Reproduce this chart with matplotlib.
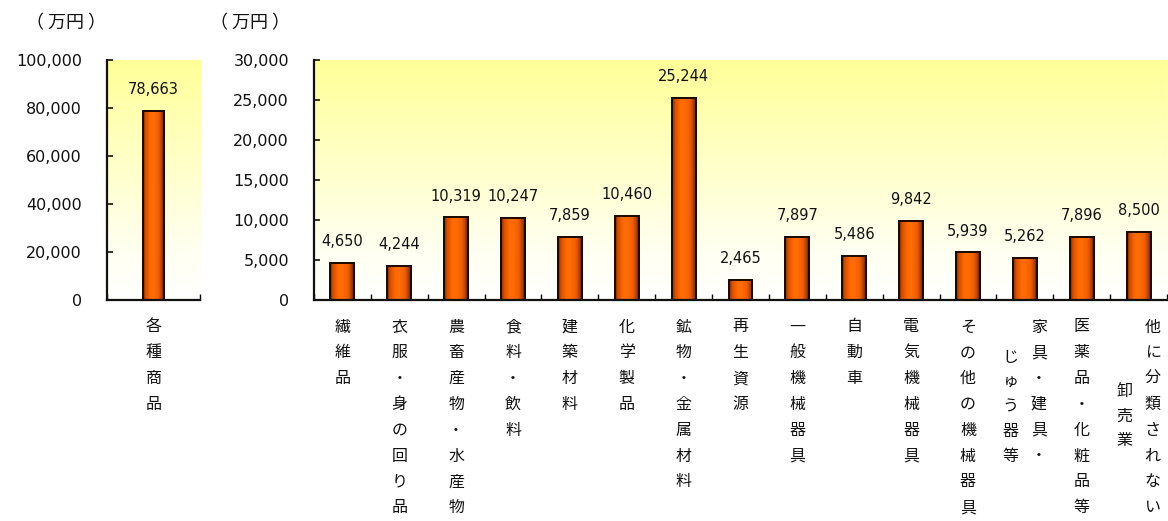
import numpy as np
import matplotlib
matplotlib.use("Agg")
import matplotlib.pyplot as plt
from matplotlib.colors import LinearSegmentedColormap
from matplotlib.ticker import FuncFormatter, FixedLocator

plt.rcParams['font.family'] = ['DejaVu Sans', 'Noto Sans CJK JP']

# ---- data ----
total_label = ["各種商品"]
total_value = [78663]

categories = [
    "繊維品", "衣服・身の回り品", "農畜産物・水産物", "食料・飲料", "建築材料",
    "化学製品", "鉱物・金属材料", "再生資源", "一般機械器具", "自動車",
    "電気機械器具", "その他の機械器具", "家具・建具・\nじゅう器等",
    "医薬品・化粧品等", "他に分類されない\n卸売業",
]
values = [4650, 4244, 10319, 10247, 7859, 10460, 25244, 2465, 7897, 5486,
          9842, 5939, 5262, 7896, 8500]

left_ticks = [0, 20000, 40000, 60000, 80000, 100000]
right_ticks = [0, 5000, 10000, 15000, 20000, 25000, 30000]
unit_label = "（ 万円 ）"

# ---- styling ----
W, H, DPI = 11.68, 5.21, 100
PX = 72 / DPI  # points per pixel
JP = ['Noto Sans CJK JP', 'DejaVu Sans']

bg_cmap = LinearSegmentedColormap.from_list(
    "bg", [(0.0, "#ffffff"), (0.2, "#fffff2"), (1.0, "#ffff99")])
bar_cmap = LinearSegmentedColormap.from_list(
    "bar", [(0.0, "#6b2400"), (0.12, "#d65000"), (0.35, "#ff6a00"),
            (0.5, "#ff6d08"), (0.75, "#f05e00"), (0.9, "#b04000"),
            (1.0, "#5a1e00")])

fig = plt.figure(figsize=(W, H), dpi=DPI)
fig.patch.set_facecolor("white")


def px_axes(x0, y0, x1, y1):
    return fig.add_axes([x0 / (W * DPI), 1 - y1 / (H * DPI),
                         (x1 - x0) / (W * DPI), (y1 - y0) / (H * DPI)])


def style_axes(ax, ymax, ticks, n):
    ax.set_xlim(-0.5, n - 0.5)
    ax.set_ylim(0, ymax)
    grad = np.linspace(0, 1, 256).reshape(-1, 1)
    ax.imshow(grad, cmap=bg_cmap, aspect="auto", origin="lower",
              extent=(0, 1, 0, 1), transform=ax.transAxes, zorder=0)
    for s in ("top", "right"):
        ax.spines[s].set_visible(False)
    for s in ("left", "bottom"):
        ax.spines[s].set_linewidth(1.6)
        ax.spines[s].set_color("#111111")
        ax.spines[s].set_zorder(5)
    ax.set_yticks(ticks)
    ax.yaxis.set_major_formatter(FuncFormatter(lambda v, p: f"{int(v):,}"))
    ax.tick_params(axis="y", direction="in", length=4, width=1.2,
                   pad=18, labelsize=11.5, colors="#111111")
    ax.xaxis.set_major_locator(FixedLocator(np.arange(-0.5, n, 1.0)))
    ax.tick_params(axis="x", direction="in", length=4, width=1.0,
                   labelbottom=False)


def draw_bars(ax, vals, width):
    grad = np.linspace(0, 1, 64).reshape(1, -1)
    for i, v in enumerate(vals):
        rect = ax.bar(i, v, width=width, color="#ff6600",
                      edgecolor="#1a0a00", linewidth=1.4, zorder=3)[0]
        im = ax.imshow(grad, cmap=bar_cmap, aspect="auto",
                       extent=(i - width / 2, i + width / 2, 0, v), zorder=3.5)
        im.set_clip_path(rect)
        ax.bar(i, v, width=width, facecolor="none",
               edgecolor="#1a0a00", linewidth=1.4, zorder=4)
        ax.annotate(f"{v:,}", xy=(i, v), xytext=(0, 10), textcoords="offset points",
                    ha="center", va="bottom", fontsize=10.5, color="#111111",
                    zorder=6)


def draw_vertical_labels(ax, labels):
    first = 27 * PX
    pitch = 25.8 * PX
    col_gap = 28 * PX
    for i, lab in enumerate(labels):
        cols = lab.split("\n")
        ncol = len(cols)
        longest = max(len(c) for c in cols)
        for j, col in enumerate(cols):
            dx = ((ncol - 1) / 2 - j) * col_gap
            # secondary columns sit lower, roughly centred on the first column
            start = max((longest - len(col)) / 2, 1.2 if j else 0) * pitch
            step = pitch if j == 0 else pitch * 0.95
            for k, ch in enumerate(col):
                ax.annotate(ch, xy=(i, 0), xycoords=("data", "axes fraction"),
                            xytext=(dx, -(first + start + k * step)),
                            textcoords="offset points", ha="center", va="center",
                            fontsize=11.5, family=JP, color="#111111",
                            annotation_clip=False)


ax1 = px_axes(107, 60, 200, 300)
style_axes(ax1, 100000, left_ticks, 1)
draw_bars(ax1, total_value, 0.22)
draw_vertical_labels(ax1, total_label)

ax2 = px_axes(314, 60, 1167, 300)
style_axes(ax2, 30000, right_ticks, len(values))
draw_bars(ax2, values, 0.42)
draw_vertical_labels(ax2, categories)

fig.text(66 / (W * DPI), 1 - 23 / (H * DPI), unit_label, ha="center", va="center",
         fontsize=13, family=JP, color="#111111")
fig.text(250 / (W * DPI), 1 - 23 / (H * DPI), unit_label, ha="center", va="center",
         fontsize=13, family=JP, color="#111111")

fig.savefig("out.png", dpi=DPI)
